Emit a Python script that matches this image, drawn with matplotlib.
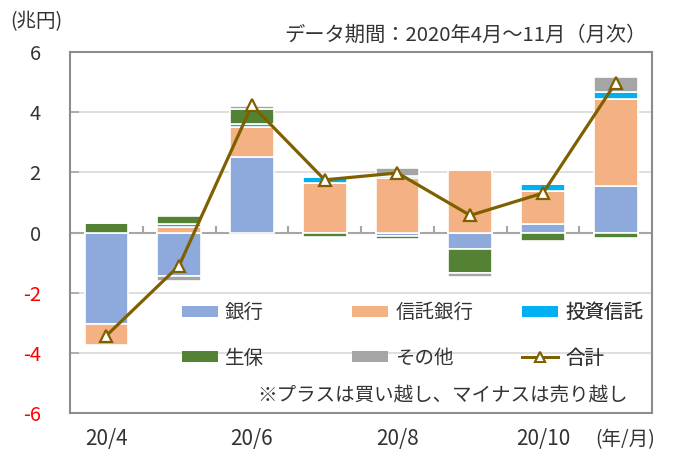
import numpy as np
import matplotlib.pyplot as plt
from matplotlib.patches import Patch
from matplotlib.lines import Line2D

plt.rcParams['font.family'] = ['Noto Sans CJK JP', 'DejaVu Sans']

# data (兆円)
months = ['20/4', '20/5', '20/6', '20/7', '20/8', '20/9', '20/10', '20/11']
bank = [-3.03, -1.45, 2.51, -0.03, -0.10, -0.55, 0.29, 1.53]
trust_bank = [-0.70, 0.18, 1.00, 1.65, 1.82, 2.07, 1.09, 2.92]
inv_trust = [0.00, 0.11, 0.10, 0.18, 0.07, 0.03, 0.22, 0.21]
life = [0.31, 0.27, 0.48, -0.12, -0.10, -0.80, -0.27, -0.18]
other = [0.00, -0.15, 0.10, 0.00, 0.26, -0.13, 0.00, 0.51]
total = [-3.43, -1.10, 4.23, 1.75, 1.98, 0.57, 1.31, 4.98]

names = ['銀行', '信託銀行', '投資信託', '生保', 'その他']
colors = ['#8EA9DB', '#F4B183', '#00B0F0', '#548235', '#A5A5A5']
series = [bank, trust_bank, inv_trust, life, other]
line_color = '#7F6000'
text_color = '#333333'

fig = plt.figure(figsize=(6.73, 4.55), dpi=100)
ax = fig.add_axes([0.104, 0.0923, 0.865, 0.7934])

x = np.arange(len(months))
pos_bottom = np.zeros(len(months))
neg_bottom = np.zeros(len(months))
for vals, c in zip(series, colors):
    v = np.array(vals)
    bottom = np.where(v >= 0, pos_bottom, neg_bottom)
    ax.bar(x, v, 0.6, bottom=bottom, color=c, edgecolor='white',
           linewidth=1.2, zorder=3)
    pos_bottom += np.where(v > 0, v, 0)
    neg_bottom += np.where(v < 0, v, 0)

ax.plot(x, total, color=line_color, lw=2.3, marker='^', markersize=9,
        markerfacecolor='white', markeredgecolor=line_color,
        markeredgewidth=1.6, zorder=5)

# zero line with category separators
ax.axhline(0, color='#A6A6A6', lw=1.5, zorder=2)
ax.vlines(x[:-1] + 0.5, 0, 0.23, color='#A6A6A6', lw=1.5, zorder=2)

ax.set_xlim(-0.5, len(months) - 0.5)
ax.set_ylim(-6, 6)
ax.set_yticks(range(-6, 7, 2))
ax.set_yticklabels([str(t) for t in range(-6, 7, 2)])
for t, lab in zip(range(-6, 7, 2), ax.get_yticklabels()):
    lab.set_color('#FF0000' if t < 0 else text_color)
ax.tick_params(axis='y', direction='in', length=6.5, width=1.2,
               color='#A6A6A6', pad=21, labelsize=14.5)
ax.yaxis.grid(True, color='#D9D9D9', lw=1.2, zorder=0)
ax.set_axisbelow(True)

ax.set_xticks(x[::2])
ax.set_xticklabels(months[::2])
ax.tick_params(axis='x', length=0, pad=11, labelsize=15, labelcolor=text_color)

for s in ax.spines.values():
    s.set_color('#8C8C8C')
    s.set_linewidth(1.5)

# legend: three columns laid out separately
handles = [Patch(facecolor=c, edgecolor='none') for c in colors]
handles.append(Line2D([], [], color=line_color, lw=2, marker='^',
                      markersize=7, markerfacecolor='white',
                      markeredgecolor=line_color, markeredgewidth=1.4))
labels = names + ['合計']
cols = [[0, 3], [1, 4], [2, 5]]
col_x = [0.192, 0.485, 0.777]
for idx, cx in zip(cols, col_x):
    leg = ax.legend([handles[i] for i in idx], [labels[i] for i in idx],
                    loc='center left', bbox_to_anchor=(cx, 0.215),
                    frameon=False, fontsize=14, handlelength=1.85,
                    handleheight=0.45, handletextpad=0.35, labelspacing=1.25,
                    borderpad=0, borderaxespad=0, labelcolor=text_color)
    ax.add_artist(leg)

ax.text(0.64, 0.05, '※プラスは買い越し、マイナスは売り越し', transform=ax.transAxes,
        ha='center', va='center', fontsize=14, color=text_color)

fig.text(0.015, 0.952, '(兆円)', ha='left', va='center', fontsize=14,
         color=text_color)
fig.text(0.96, 0.923, 'データ期間：2020年4月～11月（月次）', ha='right',
         va='center', fontsize=14.6, color=text_color)
fig.text(0.884, 0.033, '(年/月)', ha='left', va='center', fontsize=14,
         color=text_color)

fig.savefig('out.png', dpi=100)
